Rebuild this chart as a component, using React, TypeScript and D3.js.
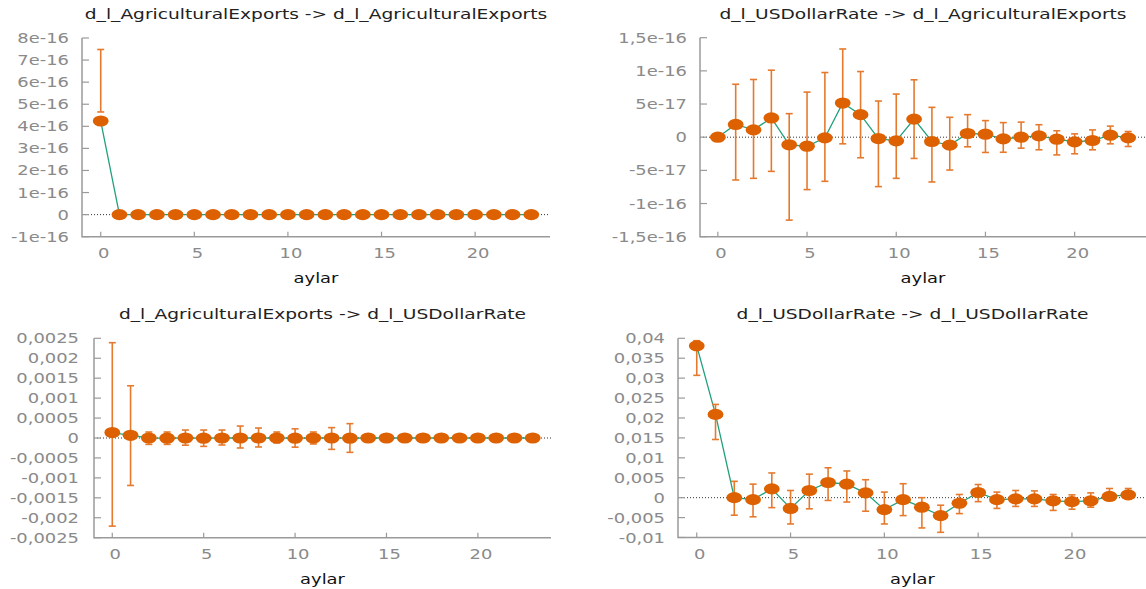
import React from "react";
import * as d3 from "d3";

// horizon (months)
const lags = [0, 1, 2, 3, 4, 5, 6, 7, 8, 9, 10, 11, 12, 13, 14, 15, 16, 17, 18, 19, 20, 21, 22, 23];
const xTicks = [0, 5, 10, 15, 20];

// d_l_AgriculturalExports -> d_l_AgriculturalExports
const aeAeValues = [4.24e-16, 0, 0, 0, 0, 0, 0, 0, 0, 0, 0, 0, 0, 0, 0, 0, 0, 0, 0, 0, 0, 0, 0, 0];
const aeAeLower = [4.65e-16, 0, 0, 0, 0, 0, 0, 0, 0, 0, 0, 0, 0, 0, 0, 0, 0, 0, 0, 0, 0, 0, 0, 0];
const aeAeUpper = [7.48e-16, 0, 0, 0, 0, 0, 0, 0, 0, 0, 0, 0, 0, 0, 0, 0, 0, 0, 0, 0, 0, 0, 0, 0];
const aeAeTicks = [8e-16, 7e-16, 6e-16, 5e-16, 4e-16, 3e-16, 2e-16, 1e-16, 0, -1e-16];
const aeAeTickLabels = ["8e-16", "7e-16", "6e-16", "5e-16", "4e-16", "3e-16", "2e-16", "1e-16", "0", "-1e-16"];

// d_l_USDollarRate -> d_l_AgriculturalExports
const usAeValues = [0, 1.92e-17, 1.1e-17, 2.9e-17, -1.15e-17, -1.36e-17, -0.1e-17, 5.15e-17, 3.4e-17, -0.2e-17, -0.55e-17, 2.73e-17,
  -0.65e-17, -1.2e-17, 0.56e-17, 0.45e-17, -0.25e-17, 0, 0.2e-17, -0.3e-17, -0.7e-17, -0.5e-17, 0.3e-17, -0.1e-17];
const usAeLower = [0, -6.45e-17, -6.2e-17, -5.15e-17, -12.5e-17, -7.9e-17, -6.65e-17, -1.0e-17, -3.1e-17, -7.45e-17, -6.2e-17, -3.2e-17,
  -6.75e-17, -4.95e-17, -1.45e-17, -2.3e-17, -2.27e-17, -1.65e-17, -1.9e-17, -2.67e-17, -2.5e-17, -1.9e-17, -1.0e-17, -1.4e-17];
const usAeUpper = [0, 7.98e-17, 8.7e-17, 10.1e-17, 3.55e-17, 6.8e-17, 9.75e-17, 13.3e-17, 9.9e-17, 5.45e-17, 6.5e-17, 8.65e-17,
  4.5e-17, 3.0e-17, 3.4e-17, 2.5e-17, 2.2e-17, 2.27e-17, 1.88e-17, 0.97e-17, 0.5e-17, 1.1e-17, 1.67e-17, 0.86e-17];
const usAeTicks = [1.5e-16, 1e-16, 5e-17, 0, -5e-17, -1e-16, -1.5e-16];
const usAeTickLabels = ["1,5e-16", "1e-16", "5e-17", "0", "-5e-17", "-1e-16", "-1,5e-16"];

// d_l_AgriculturalExports -> d_l_USDollarRate
const aeUsValues = [0.000136, 0.000068, 0, -0.000005, 0, -0.000005, 0, 0, 0, 0, -0.000005, 0,
  0, -0.000005, 0, 0, 0, 0, 0, 0, 0, 0, 0, 0];
const aeUsLower = [-0.00221, -0.00119, -0.00016, -0.00016, -0.00018, -0.00021, -0.000175, -0.00025, -0.000225, -0.000125, -0.00023, -0.00015,
  -0.000285, -0.00036, 0, 0, 0, 0, 0, 0, 0, 0, 0, 0];
const aeUsUpper = [0.00239, 0.00131, 0.00015, 0.00015, 0.0002, 0.0002, 0.0002, 0.0003, 0.00025, 0.00015, 0.00023, 0.00015,
  0.00026, 0.00036, 0, 0, 0, 0, 0, 0, 0, 0, 0, 0];
const aeUsTicks = [0.0025, 0.002, 0.0015, 0.001, 0.0005, 0, -0.0005, -0.001, -0.0015, -0.002, -0.0025];
const aeUsTickLabels = ["0,0025", "0,002", "0,0015", "0,001", "0,0005", "0", "-0,0005", "-0,001", "-0,0015", "-0,002", "-0,0025"];

// d_l_USDollarRate -> d_l_USDollarRate
const usUsValues = [0.0381, 0.0209, 0, -0.0005, 0.0022, -0.0027, 0.0018, 0.0038, 0.0034, 0.0012, -0.003, -0.0005,
  -0.0024, -0.0045, -0.0014, 0.0013, -0.0005, -0.0003, -0.0003, -0.0008, -0.001, -0.0008, 0.0003, 0.0007];
const usUsLower = [0.0307, 0.0146, -0.0044, -0.0048, -0.0025, -0.0066, -0.0028, -0.0007, -0.0011, -0.0034, -0.0066, -0.0045,
  -0.0076, -0.0087, -0.004, -0.001, -0.0027, -0.0022, -0.0022, -0.0032, -0.0029, -0.0024, -0.0006, -0.0004];
const usUsUpper = [0.0394, 0.0234, 0.0041, 0.0034, 0.0062, 0.0018, 0.0059, 0.0075, 0.0067, 0.0045, 0.0014, 0.0035,
  0.0, -0.0019, 0.0008, 0.0033, 0.0014, 0.0018, 0.0017, 0.0008, 0.0007, 0.0012, 0.0023, 0.0023];
const usUsTicks = [0.04, 0.035, 0.03, 0.025, 0.02, 0.015, 0.01, 0.005, 0, -0.005, -0.01];
const usUsTickLabels = ["0,04", "0,035", "0,03", "0,025", "0,02", "0,015", "0,01", "0,005", "0", "-0,005", "-0,01"];

const AXIS = "#9a9a9a";
const TICKTEXT = "#8a8a8a";
const DOT = "#dd6100";
const BAR = "#e57a2e";
const LINE = "#22a07c";
const FONT = "'DejaVu Sans', Verdana, sans-serif";
const SX = 1.28;

type PanelProps = {
  title: string;
  values: number[];
  lower: number[];
  upper: number[];
  ticks: number[];
  tickLabels: string[];
  box: { left: number; right: number; top: number; bottom: number };
  titleY: number;
  xLabelY: number;
  xTickY: number;
  labelGap?: number;
};

function Label({ x, y, anchor, fill, size, sx, children }: any) {
  return (
    <text
      transform={`translate(${x},${y}) scale(${sx},1)`}
      textAnchor={anchor}
      fill={fill}
      fontSize={size}
      fontFamily={FONT}
    >
      {children}
    </text>
  );
}

function Panel({ title, values, lower, upper, ticks, tickLabels, box, titleY, xLabelY, xTickY, labelGap = 13 }: PanelProps) {
  const x = d3.scaleLinear().domain([-1, 24]).range([box.left, box.right]);
  const y = d3
    .scaleLinear()
    .domain([ticks[ticks.length - 1], ticks[0]])
    .range([box.bottom, box.top]);
  const pts = lags.map((l, i) => [l, values[i]] as [number, number]);
  const path = d3
    .line<[number, number]>()
    .x((d) => x(d[0]))
    .y((d) => y(d[1]))(pts);
  const mid = (box.left + box.right) / 2;

  return (
    <g>
      <Label x={mid} y={titleY} anchor="middle" fill="#222" size={14} sx={1.33}>
        {title}
      </Label>
      {/* zero line */}
      <line x1={box.left} x2={box.right} y1={y(0)} y2={y(0)} stroke="#333" strokeWidth={1} strokeDasharray="1,2" />
      {/* axes */}
      <path
        d={`M${box.left},${box.top}V${box.bottom}H${box.right}`}
        fill="none"
        stroke={AXIS}
        strokeWidth={1.5}
      />
      {ticks.map((t, i) => (
        <g key={"y" + i}>
          <line x1={box.left} x2={box.left + 7} y1={y(t)} y2={y(t)} stroke={AXIS} strokeWidth={1.2} />
          <Label x={box.left - labelGap} y={y(t) + 5} anchor="end" fill={TICKTEXT} size={14} sx={SX}>
            {tickLabels[i]}
          </Label>
        </g>
      ))}
      {xTicks.map((t) => (
        <g key={"x" + t}>
          <line x1={x(t)} x2={x(t)} y1={box.bottom} y2={box.bottom - 5} stroke={AXIS} strokeWidth={1.2} />
          <Label x={x(t) + 3} y={xTickY} anchor="middle" fill={TICKTEXT} size={14} sx={SX}>
            {t}
          </Label>
        </g>
      ))}
      <Label x={mid} y={xLabelY} anchor="middle" fill="#111" size={14} sx={SX}>
        aylar
      </Label>
      {/* impulse response line */}
      <path d={path || ""} fill="none" stroke={LINE} strokeWidth={1.3} />
      {/* confidence bars */}
      {lags.map((l, i) => {
        if (upper[i] === lower[i]) return null;
        const cx = x(l);
        return (
          <g key={"b" + i} stroke={BAR} strokeWidth={1.6}>
            <line x1={cx} x2={cx} y1={y(lower[i])} y2={y(upper[i])} />
            <line x1={cx - 3.5} x2={cx + 3.5} y1={y(lower[i])} y2={y(lower[i])} />
            <line x1={cx - 3.5} x2={cx + 3.5} y1={y(upper[i])} y2={y(upper[i])} />
          </g>
        );
      })}
      {lags.map((l, i) => (
        <ellipse key={"d" + i} cx={x(l)} cy={y(values[i])} rx={7.9} ry={5.6} fill={DOT} />
      ))}
    </g>
  );
}

export default function App() {
  return (
    <svg
      width={1146}
      height={589}
      style={{ position: "absolute", left: 0, top: 0, background: "#fff" }}
    >
      <Panel
        title="d_l_AgriculturalExports -> d_l_AgriculturalExports"
        values={aeAeValues}
        lower={aeAeLower}
        upper={aeAeUpper}
        ticks={aeAeTicks}
        tickLabels={aeAeTickLabels}
        box={{ left: 82, right: 550, top: 38, bottom: 236.7 }}
        titleY={19}
        xLabelY={283}
        xTickY={258}
      />
      <Panel
        title="d_l_USDollarRate -> d_l_AgriculturalExports"
        values={usAeValues}
        lower={usAeLower}
        upper={usAeUpper}
        ticks={usAeTicks}
        tickLabels={usAeTickLabels}
        box={{ left: 700, right: 1146, top: 37.7, bottom: 236.7 }}
        titleY={19}
        xLabelY={283}
        xTickY={258}
      />
      <Panel
        title="d_l_AgriculturalExports -> d_l_USDollarRate"
        values={aeUsValues}
        lower={aeUsLower}
        upper={aeUsUpper}
        ticks={aeUsTicks}
        tickLabels={aeUsTickLabels}
        box={{ left: 94, right: 551, top: 338.3, bottom: 537.7 }}
        titleY={319}
        xLabelY={584}
        xTickY={559}
        labelGap={15}
      />
      <Panel
        title="d_l_USDollarRate -> d_l_USDollarRate"
        values={usUsValues}
        lower={usUsLower}
        upper={usUsUpper}
        ticks={usUsTicks}
        tickLabels={usUsTickLabels}
        box={{ left: 678, right: 1147, top: 338.3, bottom: 537.5 }}
        titleY={319}
        xLabelY={584}
        xTickY={559}
      />
    </svg>
  );
}
